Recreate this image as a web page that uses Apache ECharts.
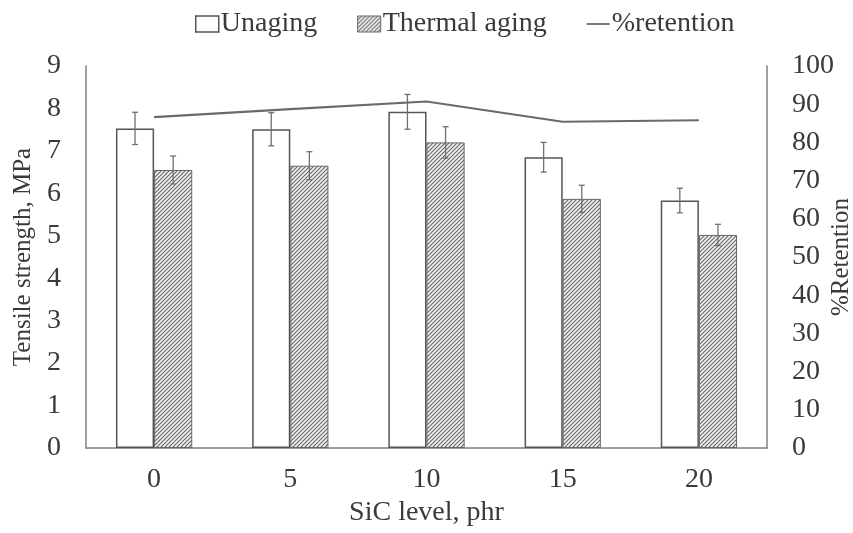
<!DOCTYPE html>
<html>
<head>
<meta charset="utf-8">
<script src="https://cdn.jsdelivr.net/npm/echarts@6/dist/echarts.min.js"></script>
<style>html,body{margin:0;padding:0;background:#fff}#c{width:853px;height:533px}</style>
</head>
<body>
<div id="c"></div>
<script>
const categories = ['0', '5', '10', '15', '20'];
const unaging = [7.53, 7.51, 7.92, 6.85, 5.83];
const unagingErr = [0.38, 0.39, 0.41, 0.35, 0.29];
const thermal = [6.55, 6.65, 7.20, 5.87, 5.02];
const thermalErr = [0.33, 0.33, 0.37, 0.32, 0.25];
const retention = [86.6, 88.7, 90.7, 85.4, 85.8];

const FONT = "'Liberation Serif', 'Times New Roman', serif";
const TXT = '#3a3a3a';

function hatch() {
  const c = document.createElement('canvas');
  c.width = 4; c.height = 4;
  const g = c.getContext('2d');
  g.fillStyle = '#f4f4f4'; g.fillRect(0, 0, 4, 4);
  g.strokeStyle = '#6a6a6a'; g.lineWidth = 1.2;
  g.beginPath();
  g.moveTo(0, 4); g.lineTo(4, 0);
  g.moveTo(-1, 1); g.lineTo(1, -1);
  g.moveTo(3, 5); g.lineTo(5, 3);
  g.stroke();
  return c;
}
const pattern = { image: hatch(), repeat: 'repeat' };

const errData = [];
unaging.forEach((v, i) => errData.push([i, v, unagingErr[i], -1]));
thermal.forEach((v, i) => errData.push([i, v, thermalErr[i], 1]));

const chart = echarts.init(document.getElementById('c'));
chart.setOption({
  animation: false,
  textStyle: { fontFamily: FONT, color: TXT },
  legend: {
    top: 10, left: 195, padding: 0,
    itemWidth: 23, itemHeight: 16, itemGap: 40,
    textStyle: { fontFamily: FONT, fontSize: 28, color: TXT, padding: [0, 0, 0, -3] },
    data: [
      { name: 'Unaging', icon: 'rect', itemStyle: { color: '#fff', borderColor: '#555', borderWidth: 1.5 } },
      { name: 'Thermal aging', icon: 'rect', itemStyle: { color: pattern, borderColor: '#666', borderWidth: 1 } },
      { name: '%retention', icon: 'path://M0,0 L0,0 M0,7.2 L23,7.2 L23,8.8 L0,8.8 Z M23,16 L23,16',
        itemStyle: { color: '#555', borderWidth: 0 } }
    ]
  },
  grid: { left: 86, right: 86, top: 66, bottom: 85, containLabel: false, outerBoundsMode: 'none' },
  xAxis: {
    type: 'category', data: categories,
    name: 'SiC level, phr', nameLocation: 'middle', nameGap: 49,
    nameTextStyle: { fontFamily: FONT, fontSize: 28, color: TXT },
    axisLine: { lineStyle: { color: '#808080', width: 1.5 } },
    axisTick: { show: false },
    axisLabel: { fontFamily: FONT, fontSize: 28, color: TXT, margin: 18 }
  },
  yAxis: [{
    type: 'value', min: 0, max: 9, interval: 1,
    name: 'Tensile strength, MPa', nameLocation: 'middle', nameGap: 50,
    nameTextStyle: { fontFamily: FONT, fontSize: 25, color: TXT },
    axisLine: { show: true, lineStyle: { color: '#808080', width: 1.5 } },
    axisTick: { show: false },
    splitLine: { show: false },
    axisLabel: { fontFamily: FONT, fontSize: 28, color: TXT, margin: 25 }
  }, {
    type: 'value', min: 0, max: 100, interval: 10,
    name: '%Retention', nameLocation: 'middle', nameGap: 62, nameRotate: 90,
    nameMoveOverlap: false,
    nameTextStyle: { fontFamily: FONT, fontSize: 25, color: TXT },
    axisLine: { show: true, lineStyle: { color: '#808080', width: 1.5 } },
    axisTick: { show: false },
    splitLine: { show: false },
    axisLabel: { fontFamily: FONT, fontSize: 28, color: TXT, margin: 25 }
  }],
  series: [{
    name: 'Unaging', type: 'bar', data: unaging, barWidth: '28%', barGap: '0%',
    itemStyle: { color: '#fff', borderColor: '#555', borderWidth: 1.5 }
  }, {
    name: 'Thermal aging', type: 'bar', data: thermal, barWidth: '28%', barGap: '0%',
    itemStyle: { color: pattern, borderColor: '#666', borderWidth: 1 }
  }, {
    name: '%retention', type: 'line', yAxisIndex: 1, data: retention,
    symbol: 'none', lineStyle: { color: '#6a6a6a', width: 2.2 }, itemStyle: { color: '#6a6a6a' }
  }, {
    name: 'err', type: 'custom', data: errData, z: 10,
    encode: { x: 0, y: 1 },
    renderItem: function (params, api) {
      const x = api.value(0), v = api.value(1), e = api.value(2), side = api.value(3);
      const band = api.size([1, 0])[0];
      const cx = api.coord([x, v])[0] + side * band * 0.14;
      const top = api.coord([x, v + e])[1];
      const bot = api.coord([x, v - e])[1];
      const st = { stroke: '#707070', lineWidth: 1.3 };
      return { type: 'group', children: [
        { type: 'line', shape: { x1: cx, y1: top, x2: cx, y2: bot }, style: st },
        { type: 'line', shape: { x1: cx - 3, y1: top, x2: cx + 3, y2: top }, style: st },
        { type: 'line', shape: { x1: cx - 3, y1: bot, x2: cx + 3, y2: bot }, style: st }
      ] };
    }
  }]
});
</script>
</body>
</html>
